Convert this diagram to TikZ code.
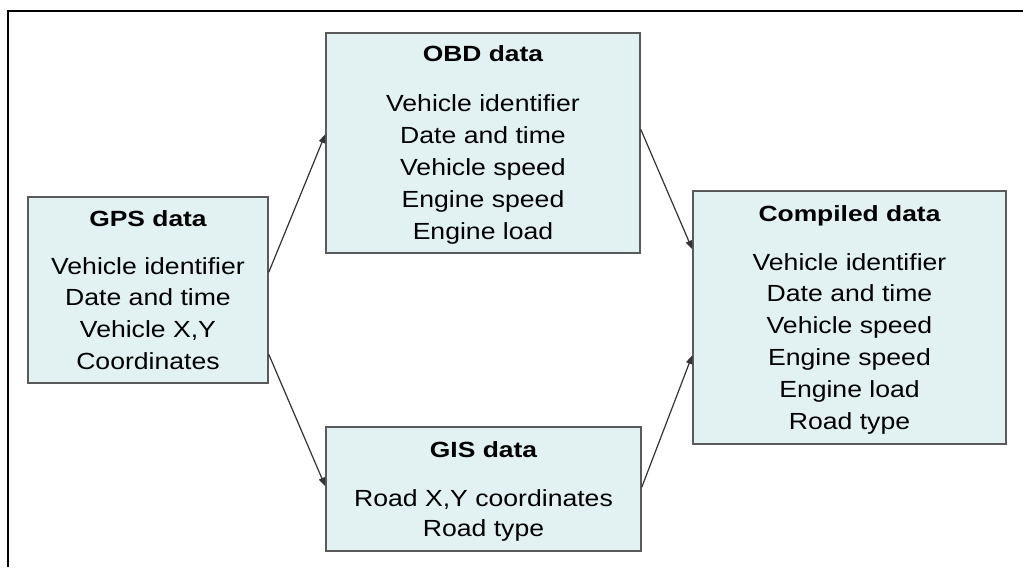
\documentclass[tikz,border=0pt]{standalone}
\usepackage{fontspec}
\setmainfont{Liberation Sans}
\newfontfamily\bodyf[FakeStretch=1.14]{Liberation Sans}
\newfontfamily\titlef[FakeStretch=1.2]{Liberation Sans Bold}
\usetikzlibrary{arrows.meta,calc}
\definecolor{boxfill}{HTML}{E2F2F2}
\definecolor{boxline}{HTML}{5A5A5A}
\definecolor{arrowc}{HTML}{333333}
\begin{document}
\begin{tikzpicture}[x=0.75pt,y=-0.75pt,
  box/.style={rectangle,draw=boxline,fill=boxfill,line width=1.1pt,inner sep=0pt},
  body/.style={inner sep=0pt,anchor=base,font=\bodyf\fontsize{17.5pt}{20pt}\selectfont},
  title/.style={inner sep=0pt,anchor=base,font=\titlef\fontsize{16.5pt}{18pt}\selectfont},
  flow/.style={draw=arrowc,line width=0.9pt,-{Triangle[length=6.5pt,width=4.8pt]}}]
\useasboundingbox (0,0) rectangle (1023,567);
% outer frame
\draw[line width=1.6pt] (8,567) -- (8,11) -- (1023,11);
% boxes
\node[box,minimum width=180pt,minimum height=139.5pt] (gps) at (148,290) {};
\node[box,minimum width=235.5pt,minimum height=165pt] (obd) at (483,143) {};
\node[box,minimum width=236.25pt,minimum height=93pt] (gis) at (483.5,489) {};
\node[box,minimum width=234.75pt,minimum height=189.75pt] (comp) at (849.5,317.5) {};
% GPS text
\node[title] (gps-t) at (148,226) {GPS data};
\foreach \t [count=\i] in {Vehicle identifier,Date and time,{Vehicle X,Y},Coordinates}
  \node[body] (gps-\i) at (148,{274+31.8*(\i-1)}) {\t};
% OBD text
\node[title] (obd-t) at (483,61) {OBD data};
\foreach \t [count=\i] in {Vehicle identifier,Date and time,Vehicle speed,Engine speed,Engine load}
  \node[body] (obd-\i) at (483,{111+32*(\i-1)}) {\t};
% GIS text
\node[title] (gis-t) at (483.5,457.5) {GIS data};
\foreach \t [count=\i] in {{Road X,Y coordinates},Road type}
  \node[body] (gis-\i) at (483.5,{506+30.7*(\i-1)}) {\t};
% Compiled text
\node[title] (comp-t) at (849.5,221) {Compiled data};
\foreach \t [count=\i] in {Vehicle identifier,Date and time,Vehicle speed,Engine speed,Engine load,Road type}
  \node[body] (comp-\i) at (849.5,{270+31.8*(\i-1)}) {\t};
% connectors
\draw[flow] ($(gps.north east)+(0,76)$) -- ($(obd.north west)+(0,102)$);
\draw[flow] ($(gps.north east)+(0,158)$) -- ($(gis.north west)+(0,60)$);
\draw[flow] ($(obd.north east)+(0,97)$) -- ($(comp.north west)+(0,59)$);
\draw[flow] ($(gis.north east)+(0,61)$) -- ($(comp.north west)+(0,165)$);
\end{tikzpicture}
\end{document}
